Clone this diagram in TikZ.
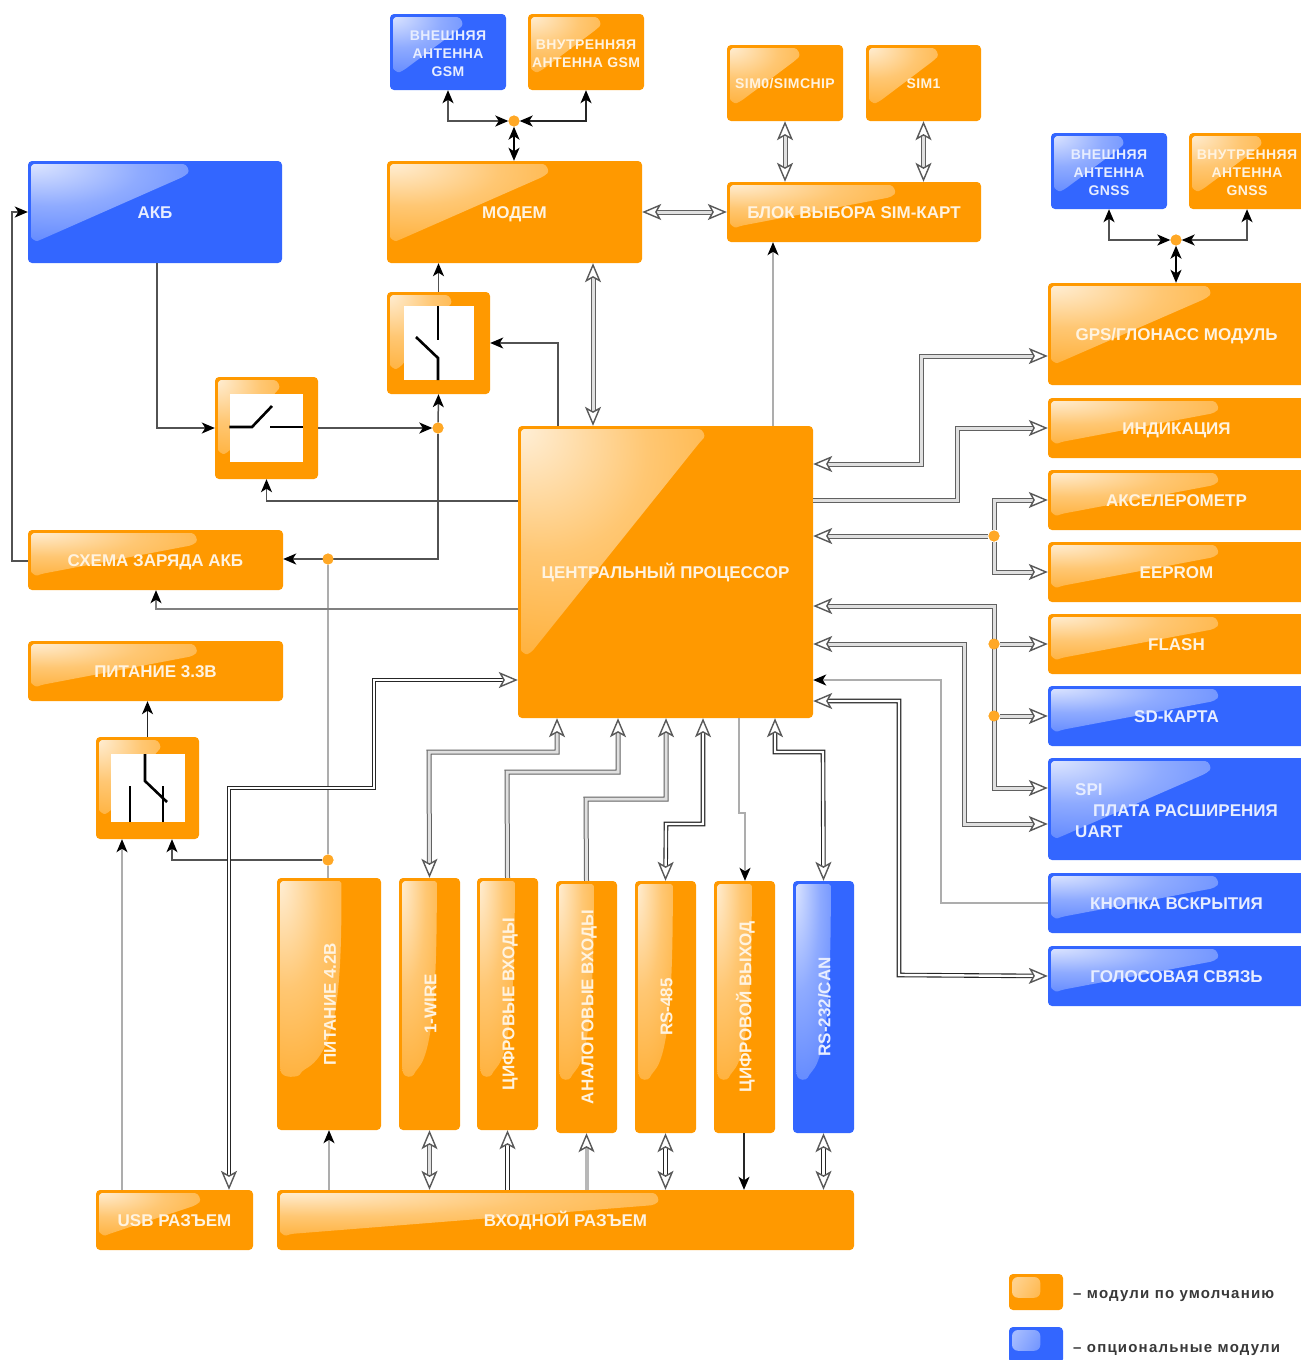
\documentclass[tikz,border=0pt]{standalone}
\usepackage{fontspec}
\setmainfont{Liberation Sans}
\usetikzlibrary{arrows.meta,calc}
\definecolor{orng}{HTML}{FF9900}
\definecolor{blu}{HTML}{3366FF}
\colorlet{txtO}{white!88!orng}
\colorlet{txtB}{white!88!blu}
\colorlet{oa}{white!85!orng}\colorlet{ob}{white!45!orng}\colorlet{oc}{white!20!orng}\colorlet{od}{white!12!orng}
\colorlet{ba}{white!85!blu}\colorlet{bb}{white!45!blu}\colorlet{bc}{white!20!blu}\colorlet{bd}{white!12!blu}
\pgfdeclareradialshading{glossorng}{\pgfpoint{-25bp}{25bp}}{color(0bp)=(oa); color(17.5bp)=(ob); color(35bp)=(oc); color(50bp)=(od); color(100bp)=(od)}
\pgfdeclareradialshading{glossblu}{\pgfpoint{-25bp}{25bp}}{color(0bp)=(ba); color(17.5bp)=(bb); color(35bp)=(bc); color(50bp)=(bd); color(100bp)=(bd)}
\newcommand{\glossH}[3]{%
  \shade[shading=gloss#1]
  let \p1=(path picture bounding box.north west),\p2=(path picture bounding box.south east),
  \n1={\x1+3pt},\n2={\y1-3pt},\n3={\x1+#2*(\x2-\x1)},\n4={\y1-#3*(\y1-\y2)} in
  (\n1,\n2-7pt) .. controls (\n1,\n2-2pt) and (\n1+2pt,\n2) .. (\n1+7pt,\n2) -- (\n3-9pt,\n2)
  .. controls (\n3-1pt,\n2) and (\n3+2pt,\n2-7pt) .. (\n3-3pt,\n2-12pt)
  -- (\n1+10pt,\n4+1pt) .. controls (\n1+5pt,\n4-1pt) and (\n1,\n4+2pt) .. (\n1,\n4+8pt) -- cycle;}
\newcommand{\glossV}[3]{%
  \shade[shading=gloss#1]
  let \p1=(path picture bounding box.north west),\p2=(path picture bounding box.south east),
  \n1={\x1+3pt},\n2={\y1-3pt},\n3={\x1+#2*(\x2-\x1)},\n4={\y1-#3*(\y1-\y2)},\n5={\n1+.3*(\n3-\n1)} in
  (\n1,\n2-7pt) .. controls (\n1,\n2-2pt) and (\n1+2pt,\n2) .. (\n1+7pt,\n2) -- (\n3-6pt,\n2)
  .. controls (\n3-2pt,\n2) and (\n3,\n2-2pt) .. (\n3,\n2-6pt)
  .. controls (\n3,\n4+90pt) and (\n3-4pt,\n4+25pt) .. (\n5+3pt,\n4+6pt)
  .. controls (\n5,\n4) and (\n1+2pt,\n4-2pt) .. (\n1,\n4+10pt) -- cycle;}
\newcommand{\glossS}[3]{%
  \shade[left color=white!55!#1,right color=white!15!#1,shading angle=60,rounded corners=6pt]
  let \p1=(path picture bounding box.north west),\p2=(path picture bounding box.south east),
  \n1={\x1+3pt},\n2={\y1-3pt},\n3={\x1+#2*(\x2-\x1)},\n4={\y1-#3*(\y1-\y2)} in
  (\n1,\n2) rectangle (\n3,\n4);}
\newcommand{\vt}[1]{\rotatebox{90}{\rule[-4.5pt]{0pt}{22.5pt}#1}}
\newcommand{\ft}{\rule{0pt}{13pt}}
\tikzset{
  x=1pt,y=-1pt,
  blk/.style={rectangle,rounded corners=4pt,inner sep=0pt,align=center,anchor=center},
  one line/.style={execute at begin node={\rule[-4pt]{0pt}{#1}}},
  lbl/.style={font=\fontsize{17}{21}\selectfont\bfseries},
  sml/.style={font=\fontsize{14}{18}\selectfont\bfseries\addfontfeature{LetterSpace=3}},
  obar/.style={blk,lbl,one line=20.2pt,fill=orng,text=txtO,path picture={\glossH{orng}{.66}{.75}}},
  bbar/.style={blk,lbl,one line=20.2pt,fill=blu,text=txtB,path picture={\glossH{blu}{.66}{.75}}},
  obig/.style={blk,lbl,one line=20.2pt,fill=orng,text=txtO,path picture={\glossH{orng}{.63}{.78}}},
  bbig/.style={blk,lbl,one line=20.2pt,fill=blu,text=txtB,path picture={\glossH{blu}{.63}{.78}}},
  bplate/.style={blk,lbl,fill=blu,text=txtB,align=left,path picture={\glossH{blu}{.63}{.78}}},
  osml/.style={blk,sml,fill=orng,text=txtO,path picture={\glossH{orng}{.62}{.76}}},
  bsml/.style={blk,sml,fill=blu,text=txtB,path picture={\glossH{blu}{.62}{.76}}},
  overt/.style={blk,lbl,fill=orng,text=txtO,path picture={\glossV{orng}{.62}{.79}}},
  bvert/.style={blk,lbl,fill=blu,text=txtB,path picture={\glossV{blu}{.62}{.79}}},
  swbox/.style={blk,fill=orng,path picture={\glossH{orng}{.62}{.75}}},
  oleg/.style={blk,fill=orng,path picture={\glossS{orng}{.58}{.66}}},
  bleg/.style={blk,fill=blu,path picture={\glossS{blu}{.58}{.66}}},
  legtext/.style={anchor=west,inner sep=0pt,text=black!78,font=\fontsize{15}{18}\selectfont\bfseries\addfontfeature{LetterSpace=8}},
  swin/.style={rectangle,fill=white,inner sep=0pt},
  contact/.style={draw=black,line width=2.6pt},
  jun/.style={circle,fill=orng!85!white,inner sep=0pt,minimum size=11pt},
  dark/.style={draw=black!68,line width=1.5pt},
  pale/.style={draw=black!32,line width=1.5pt},
  pipe/.style={draw=black!62,line width=1pt,double=black!12,double distance=3pt},
  pipeD/.style={draw=black!85,line width=1.1pt,double=white,double distance=2.4pt},
  ho/.tip={Stealth[open,fill=white,black!65,length=19pt,width=16pt,inset=4.5pt,line width=1.4pt]},
  so/.tip={Stealth[black,length=13pt,width=11pt,inset=3.5pt]},
}
\newcommand{\bx}[5]{\node[#5,minimum width=#3pt-#1pt,minimum height=#4pt-#2pt] at ({(#1+#3)/2},{(#2+#4)/2})}
\begin{document}
\begin{tikzpicture}
\useasboundingbox (0,0) rectangle (1301,1360);
\clip (0,0) rectangle (1301,1360);
% --- blocks
\bx{390}{14}{506}{90}{bsml} (extgsm) {\ft ВНЕШНЯЯ\\АНТЕННА\\GSM};
\bx{528}{14}{644}{90}{osml} (intgsm) {\ft ВНУТРЕННЯЯ\\АНТЕННА GSM};
\bx{727}{45}{843}{121}{osml,one line=18pt} (simz) {SIM0/SIMCHIP};
\bx{866}{45}{981}{121}{osml,one line=18pt} (simo) {SIM1};
\bx{1051}{133}{1167}{209}{bsml} (extgnss) {\ft ВНЕШНЯЯ\\АНТЕННА\\GNSS};
\bx{1189}{133}{1305}{209}{osml} (intgnss) {\ft ВНУТРЕННЯЯ\\АНТЕННА\\GNSS};
\bx{28}{161}{282}{263}{bbig} (akb) {АКБ};
\bx{387}{161}{642}{263}{obig} (modem) {МОДЕМ};
\bx{727}{182}{981}{242}{obar} (simsel) {БЛОК ВЫБОРА SIM-КАРТ};
\bx{1048}{283}{1305}{385}{obig} (gps) {GPS/ГЛОНАСС МОДУЛЬ};
\bx{1048}{398}{1305}{458}{obar} (ind) {ИНДИКАЦИЯ};
\bx{1048}{470}{1305}{530}{obar} (acc) {АКСЕЛЕРОМЕТР};
\bx{1048}{542}{1305}{602}{obar} (eep) {EEPROM};
\bx{1048}{614}{1305}{674}{obar} (fla) {FLASH};
\bx{1048}{686}{1305}{746}{bbar} (sd) {SD-КАРТА};
\bx{1048}{758}{1305}{860}{bplate} (ext) {\rule{0pt}{15pt}SPI\\\hspace*{18pt}ПЛАТА РАСШИРЕНИЯ\\UART};
\bx{1048}{873}{1305}{933}{bbar} (btn) {КНОПКА ВСКРЫТИЯ};
\bx{1048}{946}{1305}{1006}{bbar} (voice) {ГОЛОСОВАЯ СВЯЗЬ};
\bx{518}{426}{813}{718}{obig} (cpu) {ЦЕНТРАЛЬНЫЙ ПРОЦЕССОР};
\bx{28}{530}{283}{590}{obar} (chg) {СХЕМА ЗАРЯДА АКБ};
\bx{28}{641}{283}{701}{obar} (pw33) {ПИТАНИЕ 3.3В};
\bx{277}{878}{381}{1130}{overt} (pw42) {\vt{ПИТАНИЕ 4.2В}};
\bx{399}{878}{460}{1130}{overt} (owire) {\vt{1-WIRE}};
\bx{477}{878}{538}{1130}{overt} (dig) {\vt{ЦИФРОВЫЕ ВХОДЫ}};
\bx{556}{881}{617}{1133}{overt} (ana) {\vt{АНАЛОГОВЫЕ ВХОДЫ}};
\bx{635}{881}{696}{1133}{overt} (rsf) {\vt{RS-485}};
\bx{714}{881}{775}{1133}{overt} (dout) {\vt{ЦИФРОВОЙ ВЫХОД}};
\bx{793}{881}{854}{1133}{bvert} (rst) {\vt{RS-232/CAN}};
\bx{96}{1190}{253}{1250}{obar} (usb) {USB РАЗЪЕМ};
\bx{277}{1190}{854}{1250}{obar} (inp) {ВХОДНОЙ РАЗЪЕМ};
% --- switches
\bx{215}{377}{318}{479}{swbox} (swa) {};
\bx{387}{292}{490}{394}{swbox} (swb) {};
\bx{96}{737}{199}{839}{swbox} (swc) {};
\node[swin,minimum width=73pt,minimum height=68pt] (swai) at (266,428) {};
\node[swin,minimum width=70pt,minimum height=74pt] (swbi) at (439,343) {};
\node[swin,minimum width=74pt,minimum height=68pt] (swci) at (148,788) {};
\draw[contact] (swai.west |- 0,427) -- (252,427) -- (272,406);
\draw[contact] (270,427) -- (swai.east |- 0,427);
\draw[contact] (438,306) -- (438,340);
\draw[contact] (416,337) -- (438,358) -- (438,380);
\draw[contact] (145,754) -- (145,781) -- (167,802);
\draw[contact] (163,786) -- (163,822);
\draw[contact,line width=2pt] (130,786) -- (130,822);
% --- junctions
\node[jun] (jg) at (514,121) {};
\node[jun] (jn) at (1176,240) {};
\node[jun] (ja) at (438,428) {};
\node[jun] (jb) at (328,559) {};
\node[jun] (jc) at (328,860) {};
\node[jun] (jr) at (994,536) {};
\node[jun] (js) at (994,644) {};
\node[jun] (jt) at (994,716) {};
% --- thin connectors
\draw[dark,draw=black,so-so] (modem.north -| jg) -- (jg.south);
\draw[dark,so-so] (extgsm.south -| 448,0) |- (jg.west);
\draw[dark,draw=black!85,so-so] (intgsm.south -| 586,0) |- (jg.east);
\draw[dark,so-so] (extgnss.south -| 1109,0) |- (jn.west);
\draw[dark,so-so] (intgnss.south -| 1247,0) |- (jn.east);
\draw[dark,draw=black,so-so] (gps.north -| jn) -- (jn.south);
\draw[pale,-so] (cpu.north -| 773,0) -- (simsel.south -| 773,0);
\draw[dark,-so] (cpu.north -| 558,0) |- (swb.east |- 0,343);
\draw[dark,-so] (swb.north) -- (modem.south -| swb);
\draw[dark,-so] (swa.east) -- (ja.west);
\draw[dark,-so] (ja) -- (swb.south);
\draw[dark,-so] (ja) |- (chg.east |- jb);
\draw[pale] (jb) -- (jc);
\draw[pale] (jc) -- (pw42.north -| jc);
\draw[dark,-so] (jc) -| (swc.south -| 172,0);
\draw[pale,-so] (usb.north -| 122,0) -- (swc.south -| 122,0);
\draw[dark,draw=black!85,-so] (swc.north) -- (pw33.south -| swc);
\draw[dark,-so] (akb.south -| 157,0) |- (swa.west);
\draw[dark,-so] (chg.west |- 0,561) -- (12,561) |- (akb.west);
\draw[dark,-so] (cpu.west |- 0,501) -| (swa.south);
\draw[draw=black!50,line width=1.5pt,-so] (cpu.west |- 0,609) -| (chg.south -| 156,0);
\draw[pale,-so] (inp.north -| pw42) -- (pw42.south);
\draw[pale,-so] (cpu.south -| 739,0) -- (739,813) -- (745,813) -- (dout.north -| 745,0);
\draw[dark,draw=black!85,-so] (dout.south -| 744,0) -- (inp.north -| 744,0);
\draw[pale,-so] (btn.west) -- (941,903) |- (cpu.east |- 0,680);
% --- pipes
\draw[pipe,{ho}-{ho}] (simz.south) -- (simsel.north -| simz);
\draw[pipe,{ho}-{ho}] (simo.south) -- (simsel.north -| simo);
\draw[pipe,{ho}-{ho}] (modem.east |- simsel) -- (simsel.west);
\draw[pipe,{ho}-{ho}] (modem.south -| 593,0) -- (cpu.north -| 593,0);
\draw[pipeD,{ho}-{ho}] (cpu.west |- 0,680) -- (374,680) -- (374,788) -- (229,788) -- (usb.north -| 229,0);
\draw[pipe,{ho}-{ho}] (owire.north) -- (429,752) -- (557,752) -- (cpu.south -| 557,0);
\draw[pipe,-{ho}] (dig.north) -- (507,772) -- (618,772) -- (cpu.south -| 618,0);
\draw[pipe,-{ho}] (ana.north) -- (586,799) -- (666,799) -- (cpu.south -| 666,0);
\draw[pipeD,{ho}-{ho}] (rsf.north) -- (666,824) -- (703,824) -- (cpu.south -| 703,0);
\draw[pipeD,{ho}-{ho}] (rst.north) -- (823,752) -- (775,752) -- (cpu.south -| 775,0);
\draw[pipe,{ho}-{ho}] (owire.south) -- (inp.north -| owire);
\draw[pipeD,-{ho}] (inp.north -| dig) -- (dig.south);
\draw[draw=black!28,line width=4pt,-{ho}] (inp.north -| ana) -- (ana.south);
\draw[pipeD,{ho}-{ho}] (rsf.south) -- (inp.north -| rsf);
\draw[pipeD,{ho}-{ho}] (rst.south) -- (inp.north -| rst);
\draw[pipe,{ho}-{ho}] (cpu.east |- 0,464) -- (921,464) -- (921,356) -- (gps.west |- 0,356);
\draw[pipe,-{ho}] (cpu.east |- 0,500) -- (957,500) -- (957,428) -- (ind.west);
\draw[pipe,-{ho}] (jr) -- (cpu.east |- jr);
\draw[pipe,-{ho}] (jr) -- (994,500) -- (acc.west);
\draw[pipe,-{ho}] (jr) -- (994,572) -- (eep.west);
\draw[pipe,{ho}-{ho}] (cpu.east |- 0,606) -- (994,606) -- (994,788) -- (ext.west |- 0,788);
\draw[pipe,-{ho}] (js) -- (fla.west);
\draw[pipe,-{ho}] (jt) -- (sd.west);
\draw[pipe,{ho}-{ho}] (cpu.east |- 0,644) -- (964,644) -- (964,824) -- (ext.west |- 0,824);
\draw[pipeD,{ho}-{ho}] (cpu.east |- 0,701) -- (899,701) -- (899,975) -- (voice.west);
% redraw junction dots above the connectors
\node[jun] at (jg) {}; \node[jun] at (jn) {}; \node[jun] at (ja) {}; \node[jun] at (jb) {};
\node[jun] at (jc) {}; \node[jun] at (jr) {}; \node[jun] at (js) {}; \node[jun] at (jt) {};
% --- legend
\bx{1009}{1274}{1063}{1310}{oleg} (lego) {};
\bx{1009}{1327}{1063}{1363}{bleg} (legb) {};
\node[legtext] (lt1) at (1073,1296) {– модули по умолчанию};
\node[legtext] (lt2) at (1073,1350) {– опциональные модули};
\end{tikzpicture}
\end{document}
